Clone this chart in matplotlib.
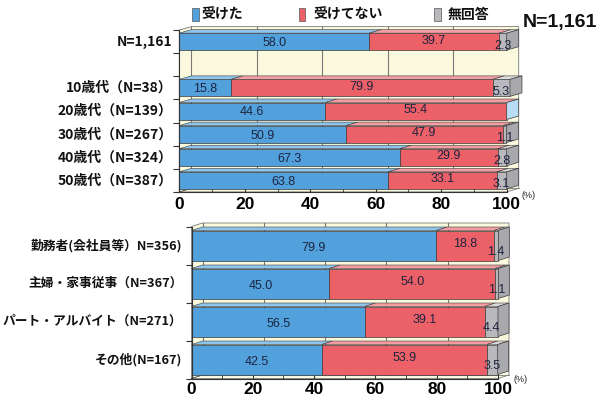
import matplotlib
matplotlib.use("Agg")
import matplotlib.pyplot as plt
from matplotlib.patches import Polygon, Rectangle
from matplotlib.transforms import blended_transform_factory

plt.rcParams['font.family'] = ['Noto Sans CJK JP', 'DejaVu Sans']
NUM_FONT = ['Liberation Sans', 'DejaVu Sans']

# ---- data -------------------------------------------------------------
series_names = ["受けた", "受けてない", "無回答"]

age_labels = ["N=1,161", "10歳代（N=38）", "20歳代（N=139）", "30歳代（N=267）",
              "40歳代（N=324）", "50歳代（N=387）"]
age_yes = [58.0, 15.8, 44.6, 50.9, 67.3, 63.8]
age_no = [39.7, 79.9, 55.4, 47.9, 29.9, 33.1]
age_na = [2.3, 5.3, 0.0, 1.1, 2.8, 3.1]
age_slots = [0, 2, 3, 4, 5, 6]          # row 1 left empty as a spacer

job_labels = ["勤務者(会社員等）N=356)", "主婦・家事従事（N=367）",
              "パート・アルバイト（N=271）", "その他(N=167)"]
job_yes = [79.9, 45.0, 56.5, 42.5]
job_no = [18.8, 54.0, 39.1, 53.9]
job_na = [1.4, 1.1, 4.4, 3.5]
job_slots = [0, 1, 2, 3]

x_ticks = [0, 20, 40, 60, 80, 100]
total_label = "N=1,161"

# ---- style ------------------------------------------------------------
W, H = 603, 398
FRONT = ["#52a1dd", "#ec6068", "#b9b9bd"]
TOP = ["#8fc4ec", "#f39ca2", "#dadadc"]
SIDE_GRAY = "#a9a9ad"
SIDE_EMPTY = "#b8def6"
CREAM = "#fbf9dd"
EDGE = "#3c3c3c"
WALL_LINE = "#7a7a7a"
NUM_COLOR = "#1d2440"

fig = plt.figure(figsize=(W / 100, H / 100), dpi=100)


def make_axes(x0, x1, y0, y1):
    return fig.add_axes([x0 / W, 1 - y1 / H, (x1 - x0) / W, (y1 - y0) / H])


def draw_panel(ax, px_w, slot_px, n_slots, slots, labels, yes, no, na,
               bar_px, dx_px, dy_px, label_x_px, label_size, pct_xy,
               tick_pad):
    ax.set_xlim(0, 100)
    ax.set_ylim(n_slots - 0.5, -0.5)
    sx = 100.0 / px_w
    dx = dx_px * sx
    dy = dy_px / slot_px
    ytop, ybot = -0.5, n_slots - 0.5

    # back wall, left wall and floor of the 3-D box
    wall = Polygon([(0, ybot), (0, ytop), (dx, ytop - dy), (100 + dx, ytop - dy),
                    (100 + dx, ybot - dy), (100, ybot)], closed=True,
                   facecolor=CREAM, edgecolor=WALL_LINE, lw=0.6,
                   clip_on=False, zorder=1)
    ax.add_patch(wall)
    for g in [0, 20, 40, 60, 80]:
        ax.plot([g + dx, g + dx], [ytop - dy, ybot - dy], color=WALL_LINE,
                lw=0.8, clip_on=False, zorder=1.5)
    ax.plot([dx, 100 + dx], [ybot - dy, ybot - dy], color=WALL_LINE, lw=0.6,
            clip_on=False, zorder=1.5)
    ax.plot([0, dx], [ybot, ybot - dy], color=EDGE, lw=0.6,
            clip_on=False, zorder=1.5)

    h = bar_px / slot_px / 2
    for r, a, b, c in zip(slots, yes, no, na):
        vals = [a, b, c]
        left = 0.0
        for k, v in enumerate(vals):
            if v <= 0:
                continue
            ax.add_patch(Rectangle((left, r - h), v, 2 * h, facecolor=FRONT[k],
                                   edgecolor=EDGE, lw=0.5, zorder=3,
                                   clip_on=False))
            ax.add_patch(Polygon([(left, r - h), (left + v, r - h),
                                  (left + v + dx, r - h - dy),
                                  (left + dx, r - h - dy)], closed=True,
                                 facecolor=TOP[k], edgecolor=EDGE, lw=0.4,
                                 zorder=3, clip_on=False))
            left += v
        side = SIDE_GRAY if c > 0 else SIDE_EMPTY
        ax.add_patch(Polygon([(left, r - h), (left + dx, r - h - dy),
                              (left + dx, r + h - dy), (left, r + h)],
                             closed=True, facecolor=side, edgecolor=EDGE,
                             lw=0.5, zorder=3, clip_on=False))
        # value labels
        ax.text(a / 2, r + 0.06, f"{a:.1f}", ha="center", va="center",
                fontsize=9, family=NUM_FONT, color=NUM_COLOR, zorder=5)
        ax.text(a + b / 2, r - 0.05, f"{b:.1f}", ha="center", va="center",
                fontsize=9, family=NUM_FONT, color=NUM_COLOR, zorder=5)
        if c > 0:
            ax.text(a + b + c / 2, r + 0.17, f"{c:.1f}", ha="center",
                    va="center", fontsize=9, family=NUM_FONT,
                    color=NUM_COLOR, zorder=5, clip_on=False)

    # category labels
    tr = blended_transform_factory(ax.transAxes, ax.transData)
    for r, lab in zip(slots, labels):
        ax.text(label_x_px / px_w, r, lab, transform=tr, ha="right",
                va="center", fontsize=label_size, fontweight="bold",
                color="#111111")

    # axes cosmetics
    for s in ["top", "right"]:
        ax.spines[s].set_visible(False)
    ax.spines["left"].set_color("#333333")
    ax.spines["bottom"].set_color("#333333")
    ax.spines["left"].set_zorder(4)
    ax.spines["bottom"].set_zorder(4)
    ax.set_xticks(x_ticks)
    ax.set_xticks(range(10, 100, 20), minor=True)
    ax.set_xticklabels([str(t) for t in x_ticks], fontsize=12.5,
                       fontweight="bold", family=NUM_FONT)
    ax.tick_params(axis="x", which="both", direction="in", length=4,
                   color="#333333", pad=tick_pad)
    ax.set_yticks([i - 0.5 for i in range(n_slots + 1)])
    ax.set_yticklabels([])
    ax.tick_params(axis="y", direction="out", length=4, color="#333333")
    ax.set_facecolor("none")
    fig.text(pct_xy[0] / W, 1 - pct_xy[1] / H, "(%)", fontsize=6.5,
             family=NUM_FONT, ha="left", va="center", color="#222222")


ax1 = make_axes(179.3, 506.7, 30.1, 191.9)
draw_panel(ax1, 506.7 - 179.3, (191.9 - 30.1) / 7, 7, age_slots, age_labels,
           age_yes, age_no, age_na, bar_px=17, dx_px=12, dy_px=3.5,
           label_x_px=-7, label_size=10, pct_xy=(522, 196), tick_pad=4)

ax2 = make_axes(191.5, 498.0, 226.5, 378.5)
draw_panel(ax2, 498.0 - 191.5, (378.5 - 226.5) / 4, 4, job_slots, job_labels,
           job_yes, job_no, job_na, bar_px=30, dx_px=11, dy_px=3.5,
           label_x_px=-9, label_size=9.2, pct_xy=(513, 380), tick_pad=2.5)

# legend across the top
legend_items = [(192, 201.5), (299, 313.5), (434, 448)]
for (mx, tx), name, col in zip(legend_items, series_names, FRONT):
    fig.patches.append(Rectangle((mx / W, 1 - 21 / H), 6.5 / W, 13 / H,
                                 transform=fig.transFigure, facecolor=col,
                                 edgecolor="#555555", lw=0.5))
    fig.text(tx / W, 1 - 14.5 / H, name, fontsize=10, fontweight="bold",
             ha="left", va="center", color="#111111")

fig.text(523 / W, 1 - 22 / H, total_label, fontsize=14, fontweight="bold",
         family=NUM_FONT, ha="left", va="center", color="#111111")

fig.savefig("out.png", dpi=100)
